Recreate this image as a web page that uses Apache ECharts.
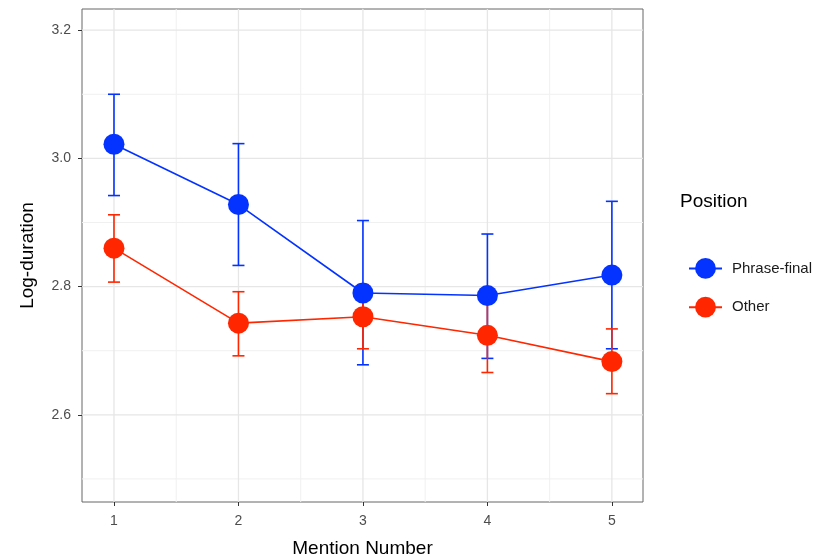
<!DOCTYPE html>
<html>
<head>
<meta charset="utf-8">
<script src="https://cdn.jsdelivr.net/npm/echarts@6/dist/echarts.min.js"></script>
<style>html,body{margin:0;padding:0;background:#fff;}#c{width:839px;height:558px;}</style>
</head>
<body>
<div id="c"></div>
<script>
const mention = [1, 2, 3, 4, 5];
const seriesNames = ['Phrase-final', 'Other'];
const pfMean = [3.022, 2.928, 2.790, 2.786, 2.818];
const pfLow  = [2.942, 2.833, 2.678, 2.688, 2.703];
const pfHigh = [3.100, 3.023, 2.903, 2.882, 2.933];
const otMean = [2.860, 2.743, 2.753, 2.724, 2.683];
const otLow  = [2.807, 2.692, 2.703, 2.666, 2.633];
const otHigh = [2.912, 2.792, 2.803, 2.781, 2.734];
const yTicks = [2.6, 2.8, 3.0, 3.2];
const yMinor = [2.5, 2.7, 2.9, 3.1];
const xTicks = [1, 2, 3, 4, 5];
const xMinor = [1.5, 2.5, 3.5, 4.5];

const BLUE = '#0433ff', RED = '#ff2600';
const FONT = "'Liberation Sans', Arial, sans-serif";
const X_MIN = 0.743, X_MAX = 5.25, Y_MIN = 2.464, Y_MAX = 3.233;

function errSeries(id, low, high, color, z) {
  return {
    id: id, type: 'custom', z: z, silent: true,
    data: mention.map((m, i) => [m, low[i], high[i]]),
    renderItem: function (params, api) {
      const x = api.value(0);
      const p1 = api.coord([x, api.value(1)]);
      const p2 = api.coord([x, api.value(2)]);
      const w = 6;
      const st = { stroke: color, lineWidth: 1.6 };
      return { type: 'group', children: [
        { type: 'line', shape: { x1: p1[0], y1: p1[1], x2: p2[0], y2: p2[1] }, style: st },
        { type: 'line', shape: { x1: p1[0] - w, y1: p1[1], x2: p1[0] + w, y2: p1[1] }, style: st },
        { type: 'line', shape: { x1: p2[0] - w, y1: p2[1], x2: p2[0] + w, y2: p2[1] }, style: st }
      ]};
    }
  };
}

// gridline rows: [orientation(0=horizontal,1=vertical), value, major(1)/minor(0)]
const gridData = [].concat(
  yMinor.map(v => [0, v, 0]), xMinor.map(v => [1, v, 0]),
  yTicks.map(v => [0, v, 1]), xTicks.map(v => [1, v, 1])
);

const chart = echarts.init(document.getElementById('c'), null, { renderer: 'canvas' });
chart.setOption({
  animation: false,
  backgroundColor: '#fff',
  textStyle: { fontFamily: FONT },
  title: {
    text: 'Position', left: 675, top: 187,
    textStyle: { fontFamily: FONT, fontSize: 19, fontWeight: 'normal', color: '#000' }
  },
  legend: {
    data: seriesNames, orient: 'vertical', left: 683, top: 253,
    itemWidth: 33, itemHeight: 26, itemGap: 18,
    textStyle: { fontFamily: FONT, fontSize: 15, color: '#1a1a1a', padding: [0, 0, 0, 5] }
  },
  grid: {
    left: 82, top: 9, right: 196, bottom: 56, show: true,
    outerBoundsMode: 'none', containLabel: false,
    borderColor: '#666', borderWidth: 1, backgroundColor: '#fff'
  },
  xAxis: {
    type: 'value', min: X_MIN, max: X_MAX,
    name: 'Mention Number', nameLocation: 'middle', nameGap: 37,
    nameTextStyle: { fontFamily: FONT, fontSize: 19, color: '#000' },
    axisLine: { show: false },
    axisTick: { show: true, length: 4, lineStyle: { color: '#333' }, customValues: xTicks },
    axisLabel: { color: '#4d4d4d', fontSize: 14, fontFamily: FONT, margin: 12, customValues: xTicks,
      formatter: v => String(v) },
    splitLine: { show: false }
  },
  yAxis: {
    type: 'value', min: Y_MIN, max: Y_MAX,
    name: 'Log-duration', nameLocation: 'middle', nameGap: 45,
    nameTextStyle: { fontFamily: FONT, fontSize: 19, color: '#000' },
    axisLine: { show: false },
    axisTick: { show: true, length: 4, lineStyle: { color: '#333' }, customValues: yTicks },
    axisLabel: { color: '#4d4d4d', fontSize: 14, fontFamily: FONT, margin: 11, customValues: yTicks,
      formatter: v => v.toFixed(1) },
    splitLine: { show: false }
  },
  series: [
    {
      id: 'gridlines', type: 'custom', z: 0, silent: true,
      data: gridData,
      renderItem: function (params, api) {
        const o = api.value(0), v = api.value(1), major = api.value(2);
        let a, b;
        if (o === 0) { a = api.coord([X_MIN, v]); b = api.coord([X_MAX, v]); }
        else { a = api.coord([v, Y_MIN]); b = api.coord([v, Y_MAX]); }
        return { type: 'line', shape: { x1: a[0], y1: a[1], x2: b[0], y2: b[1] },
          style: { stroke: major ? '#e6e6e6' : '#f0f0f0', lineWidth: major ? 1.3 : 1 } };
      }
    },
    errSeries('errPF', pfLow, pfHigh, BLUE, 2),
    errSeries('errOT', otLow, otHigh, RED, 3),
    {
      name: 'Phrase-final', type: 'line', z: 4,
      data: mention.map((m, i) => [m, pfMean[i]]),
      symbol: 'circle', symbolSize: 21, showSymbol: true,
      itemStyle: { color: BLUE }, lineStyle: { color: BLUE, width: 1.6 }
    },
    {
      name: 'Other', type: 'line', z: 5,
      data: mention.map((m, i) => [m, otMean[i]]),
      symbol: 'circle', symbolSize: 21, showSymbol: true,
      itemStyle: { color: RED }, lineStyle: { color: RED, width: 1.6 }
    }
  ]
});
</script>
</body>
</html>
